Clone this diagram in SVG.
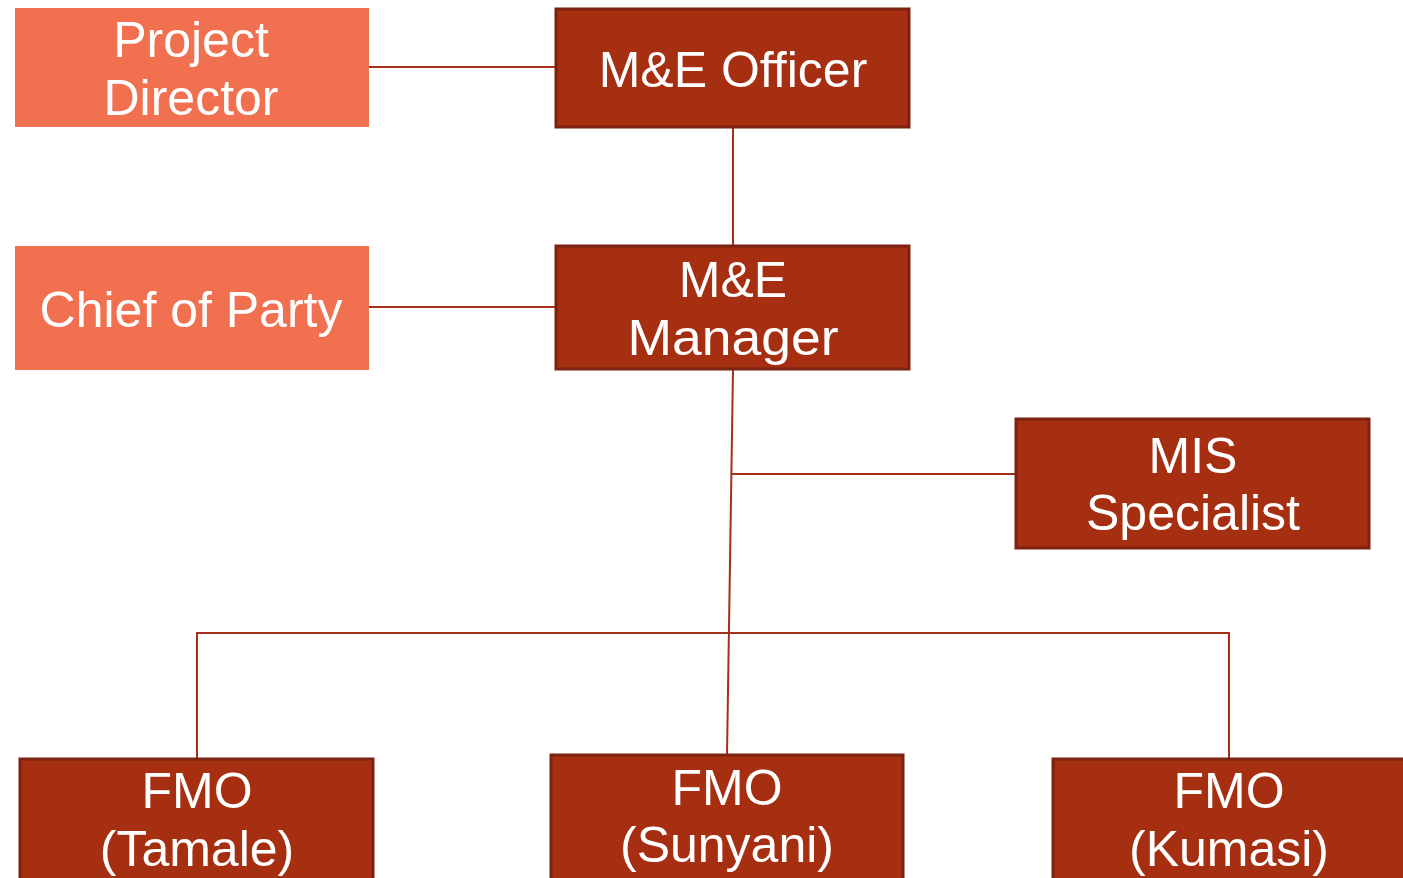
<svg xmlns="http://www.w3.org/2000/svg" width="1403" height="878" viewBox="0 0 1403 878">
<style>
.light{fill:#F0704F;}
.dark{fill:#A52F10;stroke:#7B2310;stroke-width:3;}
.t{font-family:"Liberation Sans",Arial,sans-serif;font-size:50px;fill:#FFFFFF;text-anchor:middle;}
.c{stroke:#A5301A;stroke-width:2;fill:none;}
</style>
<rect width="1403" height="878" fill="#FFFFFF"/>
<g id="connectors">
<line class="c" x1="369" y1="67" x2="556" y2="67"/>
<line class="c" x1="369" y1="307" x2="556" y2="307"/>
<line class="c" x1="733" y1="127" x2="733" y2="246"/>
<line class="c" x1="733" y1="370" x2="727" y2="755"/>
<line class="c" x1="731" y1="474" x2="1016" y2="474"/>
<polyline class="c" points="197,759 197,633 1229,633 1229,759"/>
</g>
<g id="project-director">
<rect class="light" x="15" y="8" width="354" height="119"/>
<text class="t" x="191" y="57">Project</text>
<text class="t" x="191" y="115">Director</text>
</g>
<g id="chief-of-party">
<rect class="light" x="15" y="246" width="354" height="124"/>
<text class="t" x="191" y="327">Chief of Party</text>
</g>
<g id="me-officer">
<rect class="dark" x="556" y="9" width="353" height="118"/>
<text class="t" x="733" y="87">M&amp;E Officer</text>
</g>
<g id="me-manager">
<rect class="dark" x="556" y="246" width="353" height="123"/>
<text class="t" x="733" y="297">M&amp;E</text>
<text class="t" x="733" y="355" textLength="211" lengthAdjust="spacingAndGlyphs">Manager</text>
</g>
<g id="mis-specialist">
<rect class="dark" x="1016" y="419" width="353" height="129"/>
<text class="t" x="1193" y="473">MIS</text>
<text class="t" x="1193" y="530">Specialist</text>
</g>
<g id="fmo-tamale">
<rect class="dark" x="20" y="759" width="353" height="125"/>
<text class="t" x="197" y="808">FMO</text>
<text class="t" x="197" y="866">(Tamale)</text>
</g>
<g id="fmo-sunyani">
<rect class="dark" x="551" y="755" width="352" height="129"/>
<text class="t" x="727" y="805">FMO</text>
<text class="t" x="727" y="862">(Sunyani)</text>
</g>
<g id="fmo-kumasi">
<rect class="dark" x="1053" y="759" width="360" height="125"/>
<text class="t" x="1229" y="808">FMO</text>
<text class="t" x="1229" y="866">(Kumasi)</text>
</g>
</svg>
